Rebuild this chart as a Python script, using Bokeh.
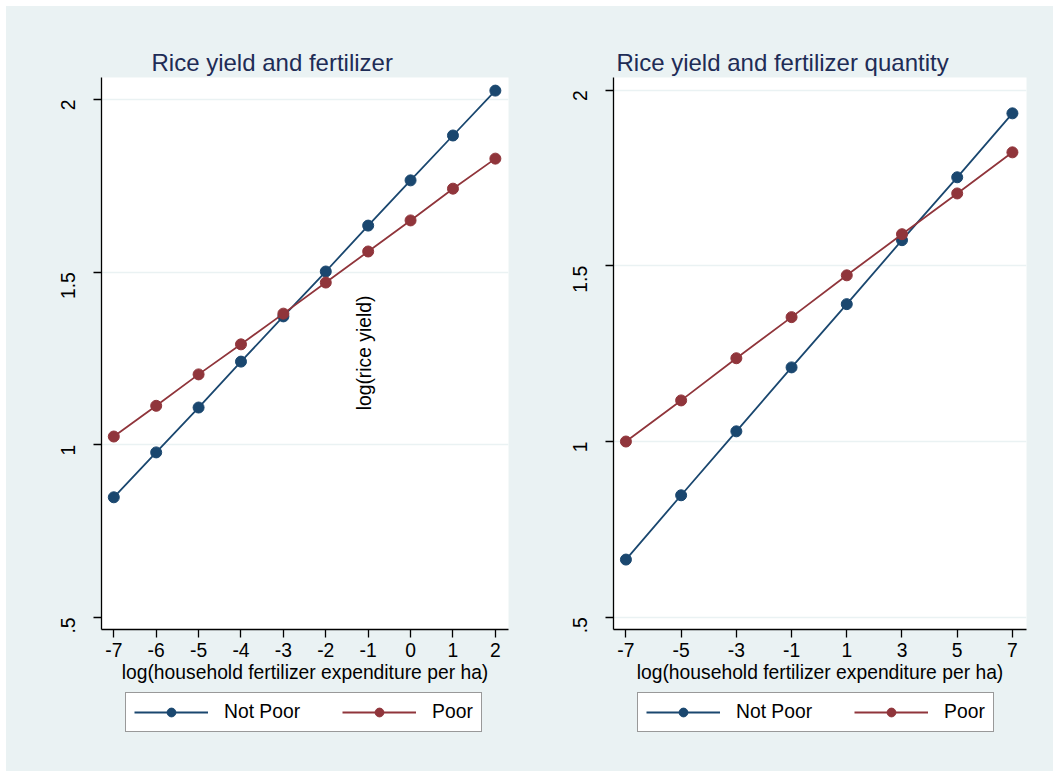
import math
from bokeh.plotting import figure
from bokeh.layouts import row, column
from bokeh.models import FixedTicker, Label, Legend, LegendItem
from bokeh.embed import file_html
from bokeh.resources import INLINE

# Panel 1: fertilizer expenditure
exp_x = [-7, -6, -5, -4, -3, -2, -1, 0, 1, 2]
exp_x_labels = ["-7", "-6", "-5", "-4", "-3", "-2", "-1", "0", "1", "2"]
exp_not_poor = [0.848, 0.978, 1.108, 1.241, 1.372, 1.502, 1.635, 1.766, 1.896, 2.026]
exp_poor = [1.024, 1.113, 1.204, 1.291, 1.380, 1.470, 1.560, 1.650, 1.742, 1.829]

# Panel 2: fertilizer quantity
qty_x = [-7, -5, -3, -1, 1, 3, 5, 7]
qty_x_labels = ["-7", "-5", "-3", "-1", "1", "3", "5", "7"]
qty_not_poor = [0.664, 0.847, 1.029, 1.211, 1.391, 1.573, 1.752, 1.934]
qty_poor = [1.000, 1.117, 1.237, 1.354, 1.473, 1.590, 1.706, 1.823]

y_ticks = [0.5, 1, 1.5, 2]
y_tick_labels = [".5", "1", "1.5", "2"]
series_names = ["Not Poor", "Poor"]
panel_titles = ["Rice yield and fertilizer", "Rice yield and fertilizer quantity"]
x_title = "log(household fertilizer expenditure per ha)"
y_title = "log(rice yield)"

BG = "#EAF2F3"
NAVY = "#1A476F"
MAROON = "#90353B"
TITLE_COLOR = "#1E2C56"
FONT = "Liberation Sans"
FS = "19.3px"

PLOT_H = 684      # plot figure height (title, frame, x axis)
LEGEND_H = 81     # legend strip height below each plot


def make_panel(xs, x_labels, ys_np, ys_p, title, title_offset, x_range, y_range,
               width, b_left, b_right, grid_ticks, show_ytitle):
    p = figure(width=width, height=PLOT_H, x_range=x_range, y_range=y_range,
               output_backend="svg", toolbar_location=None,
               min_border_left=b_left, min_border_right=b_right,
               min_border_top=71, min_border_bottom=61)
    p.background_fill_color = "white"
    p.border_fill_color = BG
    p.outline_line_color = None

    p.title.text = title
    p.title.align = "left"
    p.title.offset = title_offset
    p.title.standoff = 3
    p.title.text_font = FONT
    p.title.text_font_size = "24px"
    p.title.text_font_style = "normal"
    p.title.text_color = TITLE_COLOR

    p.xgrid.visible = False
    p.ygrid.ticker = FixedTicker(ticks=grid_ticks)
    p.ygrid.grid_line_color = BG
    p.ygrid.grid_line_width = 1.5

    for ax in (p.xaxis[0], p.yaxis[0]):
        ax.axis_line_color = "black"
        ax.axis_line_width = 1.3
        ax.major_tick_line_color = "black"
        ax.major_tick_line_width = 1.3
        ax.major_tick_out = 8
        ax.major_tick_in = 0
        ax.minor_tick_line_color = None
        ax.major_label_text_font = FONT
        ax.major_label_text_font_size = FS
        ax.major_label_text_color = "black"

    p.xaxis.ticker = FixedTicker(ticks=list(xs))
    p.xaxis.major_label_overrides = {t: s for t, s in zip(xs, x_labels)}
    p.xaxis.major_label_standoff = 5
    p.xaxis.axis_label = x_title
    p.xaxis.axis_label_text_font = FONT
    p.xaxis.axis_label_text_font_size = FS
    p.xaxis.axis_label_text_font_style = "normal"
    p.xaxis.axis_label_text_color = "black"
    p.xaxis.axis_label_standoff = 2

    p.yaxis.ticker = FixedTicker(ticks=y_ticks)
    p.yaxis.major_label_overrides = {t: s for t, s in zip(y_ticks, y_tick_labels)}
    p.yaxis.major_label_orientation = math.pi / 2
    p.yaxis.major_label_standoff = 25

    p.line(xs, ys_np, line_color=NAVY, line_width=1.8)
    p.scatter(xs, ys_np, size=11, fill_color=NAVY, line_color=NAVY)
    p.line(xs, ys_p, line_color=MAROON, line_width=1.8)
    p.scatter(xs, ys_p, size=11, fill_color=MAROON, line_color=MAROON)

    if show_ytitle:
        p.add_layout(Label(x=262.5, y=276.5, x_units="screen", y_units="screen",
                           text=y_title, angle=math.pi / 2, text_font=FONT,
                           text_font_size=FS, text_color="black",
                           text_align="center", text_baseline="middle"))
    return p


def make_legend(width):
    # strip under a panel; its frame lines up with the panel frame above it
    lg = figure(width=width, height=LEGEND_H, x_range=(0, 1), y_range=(0, 1),
                output_backend="svg", toolbar_location=None,
                x_axis_location=None, y_axis_location=None, min_border=0)
    lg.background_fill_color = BG
    lg.border_fill_color = BG
    lg.outline_line_color = None
    lg.grid.visible = False
    # legend proxies, kept outside the visible range
    l1 = lg.line([5, 6], [5, 5], line_color=NAVY, line_width=1.8)
    s1 = lg.scatter([5], [5], size=11, fill_color=NAVY, line_color=NAVY)
    l2 = lg.line([5, 6], [5, 5], line_color=MAROON, line_width=1.8)
    s2 = lg.scatter([5], [5], size=11, fill_color=MAROON, line_color=MAROON)
    legend = Legend(items=[LegendItem(label=series_names[0], renderers=[l1, s1]),
                           LegendItem(label=series_names[1], renderers=[l2, s2])],
                    location=(24, 39.3), orientation="horizontal")
    legend.border_line_color = "#333333"
    legend.border_line_width = 1.5
    legend.background_fill_color = "white"
    legend.background_fill_alpha = 1.0
    legend.label_text_font = FONT
    legend.label_text_font_size = FS
    legend.label_text_color = "black"
    legend.glyph_width = 74
    legend.glyph_height = 22
    legend.label_height = 22
    legend.label_standoff = 16
    legend.spacing = 42
    legend.padding = 8
    legend.margin = 0
    lg.add_layout(legend)
    return lg


p1 = make_panel(exp_x, exp_x_labels, exp_not_poor, exp_poor, panel_titles[0], 50,
                (-7.29, 2.31), (0.465, 2.064), 554, 95, 52, [1, 1.5, 2], True)
p2 = make_panel(qty_x, qty_x_labels, qty_not_poor, qty_poor, panel_titles[1], 3,
                (-7.45, 7.51), (0.465, 2.036), 493, 53, 27, y_ticks, False)
g1 = make_legend(554)
g2 = make_legend(493)

layout = row(column(p1, g1), column(p2, g2), styles={"background-color": BG})
layout.margin = (6, 0, 0, 6)

open("out.html", "w").write(file_html(layout, INLINE))
